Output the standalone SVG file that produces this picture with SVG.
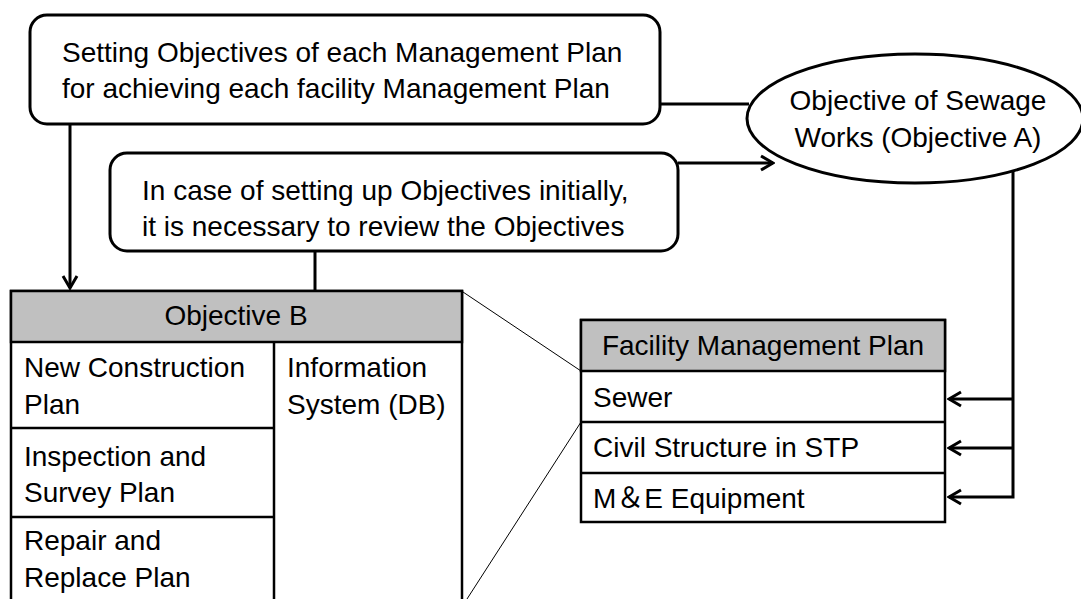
<svg xmlns="http://www.w3.org/2000/svg" width="1081" height="599" viewBox="0 0 1081 599">
<style>
text{font-family:"Liberation Sans","Noto Sans CJK JP",sans-serif;font-size:28px;fill:#000}
.c{text-anchor:middle}
.box{fill:#fff;stroke:#000;stroke-width:3}
.tb{fill:#fff;stroke:#000;stroke-width:2.5}
.hd{fill:#c0c0c0;stroke:#000;stroke-width:2.5}
.ln{stroke:#000;stroke-width:2.5;fill:none}
.cn{stroke:#000;stroke-width:3;fill:none}
.th{stroke:#000;stroke-width:1;fill:none}
</style>
<defs>
<marker id="ah" viewBox="-15 -10 17 20" markerWidth="17" markerHeight="20" refX="0" refY="0" orient="auto" markerUnits="userSpaceOnUse">
<path d="M-12,-7 L0,0 L-12,7" fill="none" stroke="#000" stroke-width="3" stroke-linejoin="miter"/>
</marker>
</defs>

<g id="connectors">
<line class="cn" x1="70" y1="124" x2="70" y2="288" marker-end="url(#ah)"/>
<line class="cn" x1="315" y1="251" x2="315" y2="291"/>
<line class="cn" x1="660" y1="104" x2="749" y2="104"/>
<line class="cn" x1="678" y1="163" x2="773" y2="163" marker-end="url(#ah)"/>
<polyline class="cn" points="1013,171 1013,497 949,497" marker-end="url(#ah)"/>
<line class="cn" x1="1013" y1="399" x2="949" y2="399" marker-end="url(#ah)"/>
<line class="cn" x1="1013" y1="448" x2="949" y2="448" marker-end="url(#ah)"/>
<line class="th" x1="463" y1="292" x2="581" y2="371"/>
<line class="th" x1="581" y1="422" x2="467" y2="599"/>
</g>

<g id="box-setting">
<rect class="box" x="30" y="15" width="630" height="109" rx="17"/>
<text x="62" y="62">Setting Objectives of each Management Plan</text>
<text x="62" y="98">for achieving each facility Management Plan</text>
</g>

<g id="box-review">
<rect class="box" x="110" y="153" width="568" height="98" rx="17"/>
<text x="142" y="200">In case of setting up Objectives initially,</text>
<text x="142" y="236">it is necessary to review the Objectives</text>
</g>

<g id="objective-a">
<ellipse class="box" cx="915" cy="118.5" rx="168" ry="64.5"/>
<text class="c" x="918" y="110">Objective of Sewage</text>
<text class="c" x="918" y="147">Works (Objective A)</text>
</g>

<g id="objective-b">
<rect class="tb" x="11" y="291" width="451" height="320"/>
<rect class="hd" x="11" y="291" width="451" height="51"/>
<text class="c" x="236" y="325">Objective B</text>
<line class="ln" x1="274" y1="342" x2="274" y2="600"/>
<line class="ln" x1="11" y1="428" x2="274" y2="428"/>
<line class="ln" x1="11" y1="517" x2="274" y2="517"/>
<text x="24" y="377">New Construction</text>
<text x="24" y="414">Plan</text>
<text x="24" y="466">Inspection and</text>
<text x="24" y="502">Survey Plan</text>
<text x="24" y="550">Repair and</text>
<text x="24" y="587">Replace Plan</text>
<text x="287" y="377">Information</text>
<text x="287" y="414">System (DB)</text>
</g>

<g id="facility-plan">
<rect class="tb" x="581" y="320" width="364" height="202"/>
<rect class="hd" x="581" y="320" width="364" height="51"/>
<text class="c" x="763" y="355">Facility Management Plan</text>
<line class="ln" x1="581" y1="422" x2="945" y2="422"/>
<line class="ln" x1="581" y1="473" x2="945" y2="473"/>
<text x="593" y="407">Sewer</text>
<text x="593" y="457">Civil Structure in STP</text>
<text x="593" y="508">M＆E Equipment</text>
</g>
</svg>
